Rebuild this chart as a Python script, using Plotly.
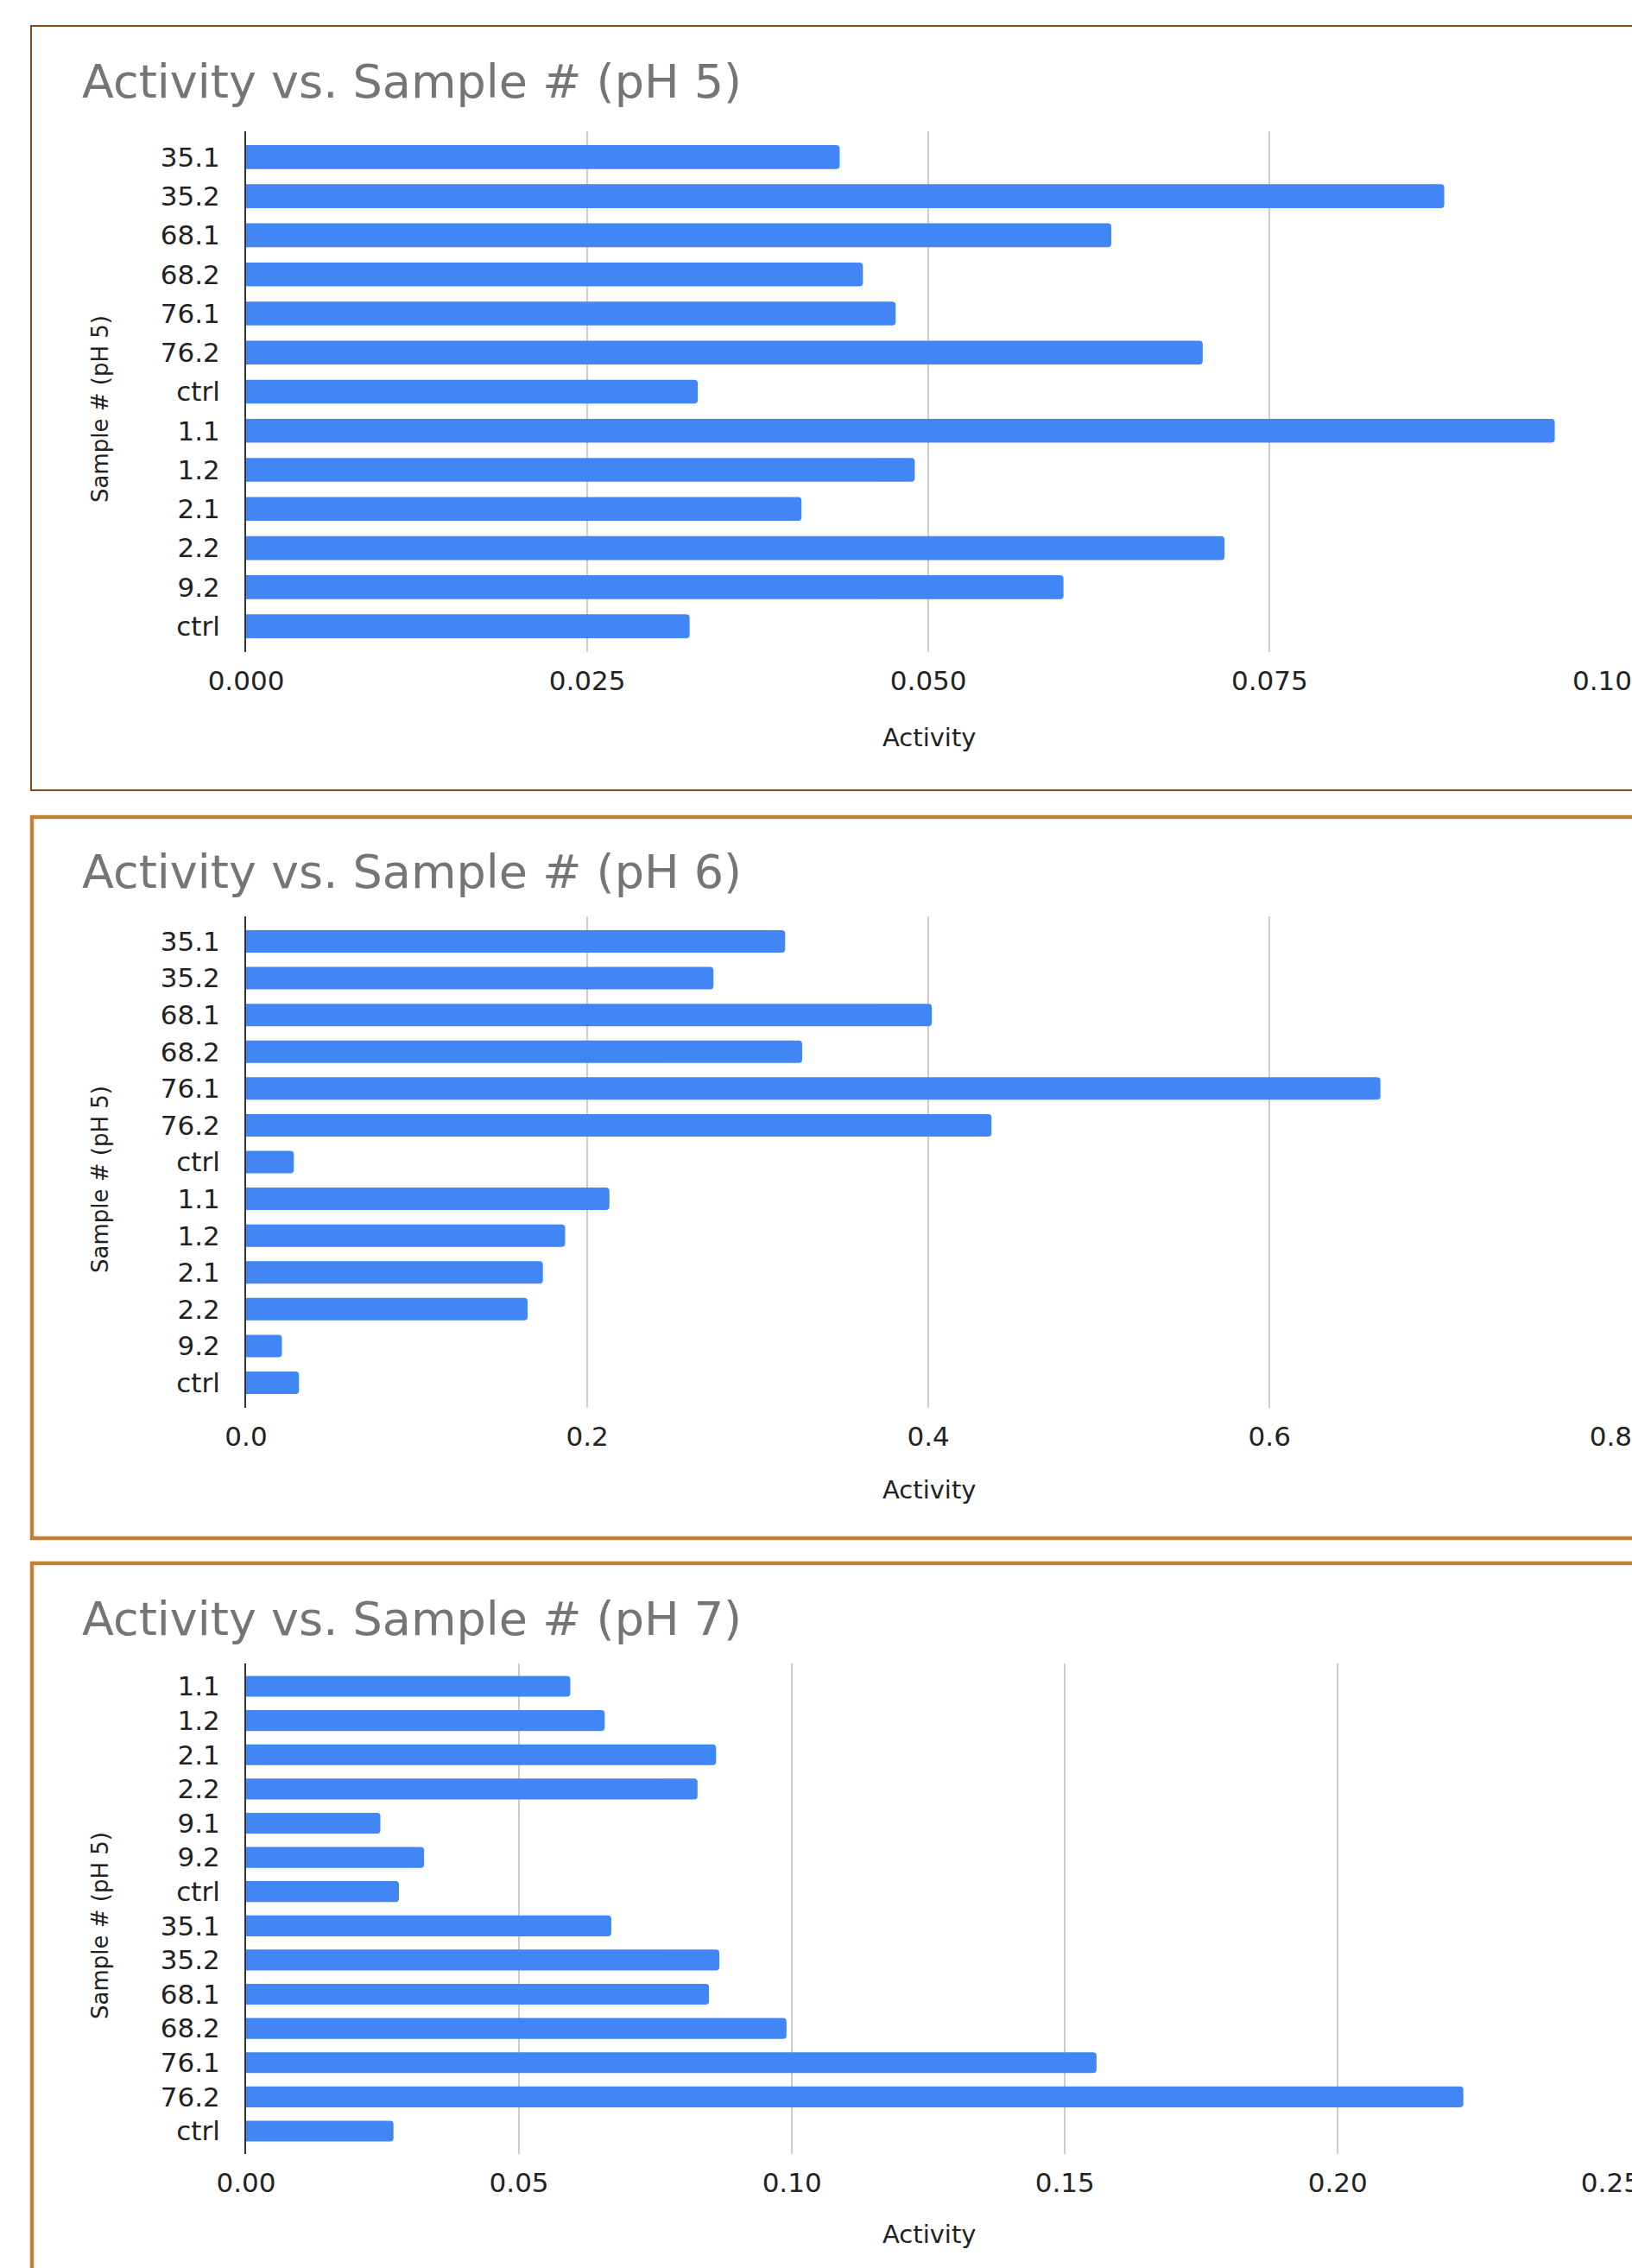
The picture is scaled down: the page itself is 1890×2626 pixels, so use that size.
import plotly.graph_objects as go

# ---------------- data ----------------
ph5_samples = ["35.1", "35.2", "68.1", "68.2", "76.1", "76.2", "ctrl",
               "1.1", "1.2", "2.1", "2.2", "9.2", "ctrl"]
ph5_activity = [0.0435, 0.0878, 0.0634, 0.0452, 0.0476, 0.0701, 0.0331,
                0.0959, 0.0490, 0.0407, 0.0717, 0.0599, 0.0325]
ph5_ticks = [0.0, 0.025, 0.05, 0.075, 0.1]

ph6_samples = ["35.1", "35.2", "68.1", "68.2", "76.1", "76.2", "ctrl",
               "1.1", "1.2", "2.1", "2.2", "9.2", "ctrl"]
ph6_activity = [0.316, 0.274, 0.402, 0.326, 0.665, 0.437, 0.028,
                0.213, 0.187, 0.174, 0.165, 0.021, 0.031]
ph6_ticks = [0.0, 0.2, 0.4, 0.6, 0.8]

ph7_samples = ["1.1", "1.2", "2.1", "2.2", "9.1", "9.2", "ctrl",
               "35.1", "35.2", "68.1", "68.2", "76.1", "76.2", "ctrl"]
ph7_activity = [0.0594, 0.0657, 0.0861, 0.0827, 0.0246, 0.0326, 0.0280,
                0.0669, 0.0867, 0.0848, 0.0990, 0.1558, 0.2230, 0.0270]
ph7_ticks = [0.0, 0.05, 0.10, 0.15, 0.20, 0.25]

titles = ["Activity vs. Sample # (pH 5)", "Activity vs. Sample # (pH 6)",
          "Activity vs. Sample # (pH 7)"]
x_title = "Activity"
y_title = "Sample # (pH 5)"

# ---------------- layout constants ----------------
W, H = 1890, 2626
FONT = "DejaVu Sans"
BLUE = "#4285F4"


def px_x(v):
    return v / W


def px_y(v):
    return 1 - v / H


panels = [
    dict(samples=ph5_samples, vals=ph5_activity, ticks=ph5_ticks, fmt="{:.3f}",
         top=152, bottom=755, pad=0.16, title_y=95, xt_y=854, yt_y=474,
         box=(36, 30, 915), bcol="#8B4A14", bw=2),
    dict(samples=ph6_samples, vals=ph6_activity, ticks=ph6_ticks, fmt="{:.1f}",
         top=1061, bottom=1630, pad=0.18, title_y=1009, xt_y=1725, yt_y=1366,
         box=(37, 946, 1781), bcol="#C08136", bw=4.5),
    dict(samples=ph7_samples, vals=ph7_activity, ticks=ph7_ticks, fmt="{:.2f}",
         top=1926, bottom=2494, pad=0.17, title_y=1874, xt_y=2587, yt_y=2230,
         box=(37, 1810, 2700), bcol="#C08136", bw=4.5),
]

fig = go.Figure()
annotations = []
shapes = []
x_left, x_right = 285, 1866

for i, p in enumerate(panels, start=1):
    sfx = "" if i == 1 else str(i)
    n = len(p["samples"])
    ypos = list(range(n))
    xmax = p["ticks"][-1]
    fig.add_trace(go.Bar(
        x=p["vals"], y=ypos, orientation="h",
        marker=dict(color=BLUE, cornerradius=4, line=dict(width=0)),
        width=0.61, xaxis="x" + sfx, yaxis="y" + sfx, showlegend=False,
    ))
    fig.layout["xaxis" + sfx] = dict(
        domain=[px_x(x_left), px_x(x_right)], anchor="y" + sfx,
        range=[0, xmax * 1.0004], tickmode="array", tickvals=p["ticks"],
        ticktext=[p["fmt"].format(t) for t in p["ticks"]],
        showgrid=True, gridcolor="#CCCCCC", gridwidth=2, zeroline=False,
        showline=False, ticks="", ticklabelstandoff=12, automargin=False,
        ticklabeloverflow="allow",
        tickfont=dict(family=FONT, size=31, color="#222222"),
        fixedrange=True,
    )
    fig.layout["yaxis" + sfx] = dict(
        domain=[px_y(p["bottom"]), px_y(p["top"])], anchor="x" + sfx,
        range=[n - 0.5 + p["pad"], -0.5 - p["pad"]],
        tickmode="array", tickvals=ypos, ticktext=p["samples"],
        showgrid=False, zeroline=False, showline=True, linecolor="#333333",
        linewidth=2, ticks="", ticklabelstandoff=22, automargin=False,
        tickfont=dict(family=FONT, size=31, color="#222222"),
        fixedrange=True,
    )
    # chart title
    annotations.append(dict(
        text=titles[i - 1], xref="paper", yref="paper", x=px_x(93), y=px_y(p["title_y"]),
        xanchor="left", yanchor="middle", showarrow=False,
        font=dict(family=FONT, size=54, color="#757575"),
    ))
    # x-axis title
    annotations.append(dict(
        text=x_title, xref="paper", yref="paper", x=px_x((x_left + x_right) / 2),
        y=px_y(p["xt_y"]), xanchor="center", yanchor="middle", showarrow=False,
        font=dict(family=FONT, size=29, color="#222222"),
    ))
    # y-axis title
    annotations.append(dict(
        text=y_title, xref="paper", yref="paper", x=px_x(116), y=px_y(p["yt_y"]),
        xanchor="center", yanchor="middle", showarrow=False, textangle=-90,
        font=dict(family=FONT, size=26, color="#222222"),
    ))
    # panel border
    bx, by0, by1 = p["box"]
    shapes.append(dict(
        type="rect", xref="paper", yref="paper",
        x0=px_x(bx), x1=px_x(W + 40), y0=px_y(by1), y1=px_y(by0),
        line=dict(color=p["bcol"], width=p["bw"]), fillcolor="rgba(0,0,0,0)",
        layer="below",
    ))

fig.update_layout(
    template=None,
    width=W, height=H, autosize=False,
    margin=dict(l=0, r=0, t=0, b=0, pad=0, autoexpand=False),
    paper_bgcolor="white", plot_bgcolor="white",
    bargap=0.4,
    annotations=annotations, shapes=shapes,
    font=dict(family=FONT),
)

fig.write_html("out.html", config={"displayModeBar": False})
